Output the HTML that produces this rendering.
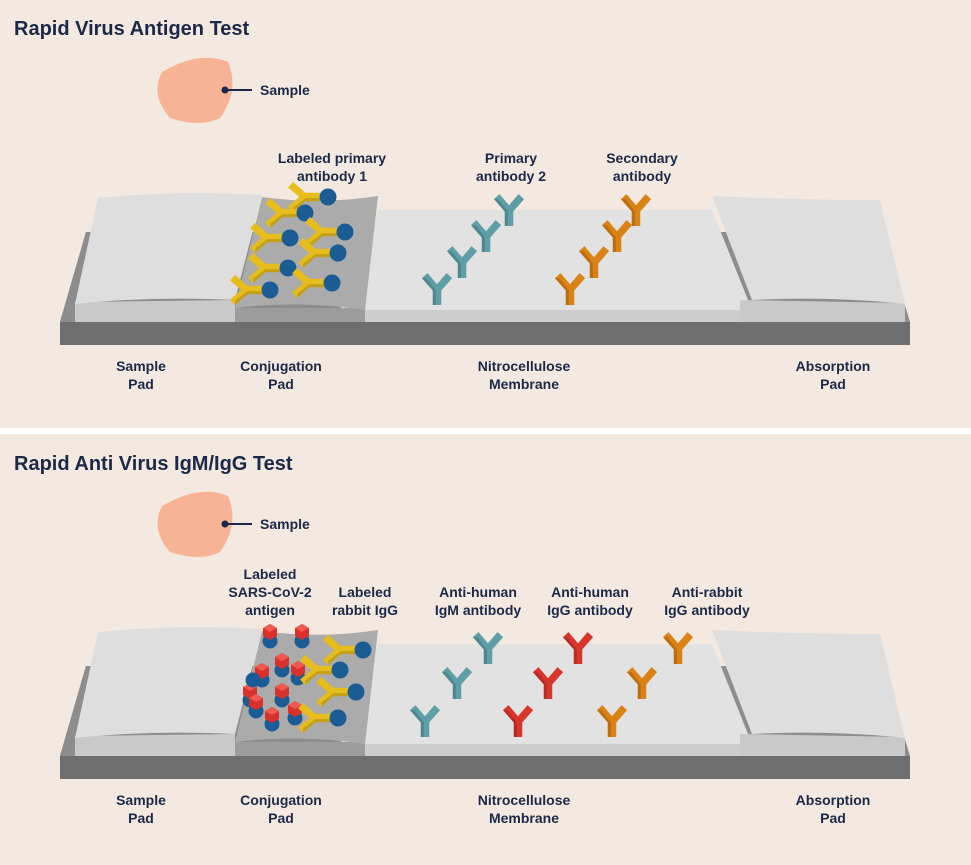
<!DOCTYPE html>
<html><head><style>
body{margin:0;background:#fff}
svg{display:block}
text{font-family:"Liberation Sans",sans-serif;font-weight:bold;fill:#1b2848}
</style></head><body>
<svg width="971" height="865" viewBox="0 0 971 865" xmlns="http://www.w3.org/2000/svg">
<defs>
<g id="y">
<g transform="scale(1.12)">
<path d="M-3.8,0 L3.8,0 L3.8,-13 L13.5,-24 L8.5,-28.5 L0,-18.5 L-8.5,-28.5 L-13.5,-24 L-3.8,-13 Z"/>
<path d="M-3.8,0 L-1,0 L-1,-13 L-9.5,-24 L-13.5,-24 L-3.8,-13 Z" fill="#000" opacity="0.15"/>
</g>
</g>
<g id="ab">
<g transform="rotate(-90)" fill="#e6bd1c"><use href="#y"/></g>
<circle cx="8" cy="0" r="8.5" fill="#1b5c94"/>
</g>
<g id="ag">
<circle cx="0" cy="8" r="7.5" fill="#1b5c94"/>
<polygon points="0,-9 7,-5 7,3 0,7 -7,3 -7,-5" fill="#d8312b"/>
<polygon points="0,-9 7,-5 0,-1 -7,-5" fill="#ef5a50"/>
</g>
<g id="strip">
<path d="M86,232 L882,232 L910,322 L910,345 L60,345 L60,322 Z" fill="#6e6e6e"/>
<path d="M86,232 L882,232 L910,322 L60,322 Z" fill="#8d8d8d"/>
<path d="M337,310 L755,310 L755,322 L337,322 Z" fill="#cdcdcd"/>
<path d="M378,210 L712,210 L752,310 L340,310 Z" fill="#e2e2e2"/>
<path d="M222,308 L365,308 L365,322 L222,322 Z" fill="#9c9c9c"/>
<path d="M262,197 Q320,205 378,196 L365,310 Q300,300 235,308 Z" fill="#ababab"/>
<path d="M75,302 L235,300 L235,322 L75,322 Z" fill="#c9c9c9"/>
<path d="M98,198 Q180,190 262,195 L235,300 Q150,296 75,304 Z" fill="#dedede"/>
<path d="M740,300 L905,303 L905,322 L740,322 Z" fill="#c9c9c9"/>
<path d="M712,196 Q800,200 880,200 L905,304 Q830,296 752,300 Z" fill="#dedede"/>
</g>
</defs>
<rect width="971" height="865" fill="#f4e9e1"/>
<rect y="428" width="971" height="6" fill="#fff"/>

<!-- Panel 1 -->
<text x="14" y="35" font-size="20">Rapid Virus Antigen Test</text>
<path d="M162,72 Q200,50 228,62 Q240,90 220,118 Q200,128 170,118 Q150,95 162,72 Z" fill="#f6b395"/>
<circle cx="225" cy="90" r="3.5" fill="#1b2848"/><line x1="225" y1="90" x2="252" y2="90" stroke="#1b2848" stroke-width="2"/>
<text x="260" y="95" font-size="14">Sample</text>
<use href="#strip"/>
<g>
<use href="#ab" x="320" y="197"/><use href="#ab" x="297" y="213"/><use href="#ab" x="337" y="232"/>
<use href="#ab" x="282" y="238"/><use href="#ab" x="330" y="253"/><use href="#ab" x="280" y="268"/>
<use href="#ab" x="324" y="283"/><use href="#ab" x="262" y="290"/>
</g>
<g fill="#5e9ea6"><use href="#y" x="437" y="305"/><use href="#y" x="462" y="278"/><use href="#y" x="486" y="252"/><use href="#y" x="509" y="226"/></g>
<g fill="#da8213"><use href="#y" x="570" y="305"/><use href="#y" x="594" y="278"/><use href="#y" x="617" y="252"/><use href="#y" x="636" y="226"/></g>
<g font-size="14" text-anchor="middle">
<text x="332" y="163">Labeled primary</text><text x="332" y="181">antibody 1</text>
<text x="511" y="163">Primary</text><text x="511" y="181">antibody 2</text>
<text x="642" y="163">Secondary</text><text x="642" y="181">antibody</text>
<text x="141" y="371">Sample</text><text x="141" y="389">Pad</text>
<text x="281" y="371">Conjugation</text><text x="281" y="389">Pad</text>
<text x="524" y="371">Nitrocellulose</text><text x="524" y="389">Membrane</text>
<text x="833" y="371">Absorption</text><text x="833" y="389">Pad</text>
</g>

<!-- Panel 2 -->
<text x="14" y="470" font-size="20">Rapid Anti Virus IgM/IgG Test</text>
<path d="M162,506 Q200,484 228,496 Q240,524 220,552 Q200,562 170,552 Q150,529 162,506 Z" fill="#f6b395"/>
<circle cx="225" cy="524" r="3.5" fill="#1b2848"/><line x1="225" y1="524" x2="252" y2="524" stroke="#1b2848" stroke-width="2"/>
<text x="260" y="529" font-size="14">Sample</text>
<use href="#strip" y="434"/>
<g>
<use href="#ag" x="270" y="633"/><use href="#ag" x="302" y="633"/>
<use href="#ag" x="282" y="662"/><use href="#ag" x="262" y="672"/><use href="#ag" x="298" y="670"/>
<use href="#ag" x="250" y="692"/><use href="#ag" x="282" y="692"/><use href="#ag" x="256" y="703"/>
<use href="#ag" x="272" y="716"/><use href="#ag" x="295" y="710"/>
<circle cx="253" cy="680" r="7.5" fill="#1b5c94"/>
</g>
<use href="#ab" x="355" y="650"/><use href="#ab" x="332" y="670"/><use href="#ab" x="348" y="692"/><use href="#ab" x="330" y="718"/>
<g fill="#5e9ea6"><use href="#y" x="425" y="737"/><use href="#y" x="457" y="699"/><use href="#y" x="488" y="664"/></g>
<g fill="#d8352c"><use href="#y" x="518" y="737"/><use href="#y" x="548" y="699"/><use href="#y" x="578" y="664"/></g>
<g fill="#da8213"><use href="#y" x="612" y="737"/><use href="#y" x="642" y="699"/><use href="#y" x="678" y="664"/></g>
<g font-size="14" text-anchor="middle">
<text x="270" y="579">Labeled</text><text x="270" y="597">SARS-CoV-2</text><text x="270" y="615">antigen</text>
<text x="365" y="597">Labeled</text><text x="365" y="615">rabbit IgG</text>
<text x="478" y="597">Anti-human</text><text x="478" y="615">IgM antibody</text>
<text x="590" y="597">Anti-human</text><text x="590" y="615">IgG antibody</text>
<text x="707" y="597">Anti-rabbit</text><text x="707" y="615">IgG antibody</text>
<text x="141" y="805">Sample</text><text x="141" y="823">Pad</text>
<text x="281" y="805">Conjugation</text><text x="281" y="823">Pad</text>
<text x="524" y="805">Nitrocellulose</text><text x="524" y="823">Membrane</text>
<text x="833" y="805">Absorption</text><text x="833" y="823">Pad</text>
</g>
</svg>
</body></html>
